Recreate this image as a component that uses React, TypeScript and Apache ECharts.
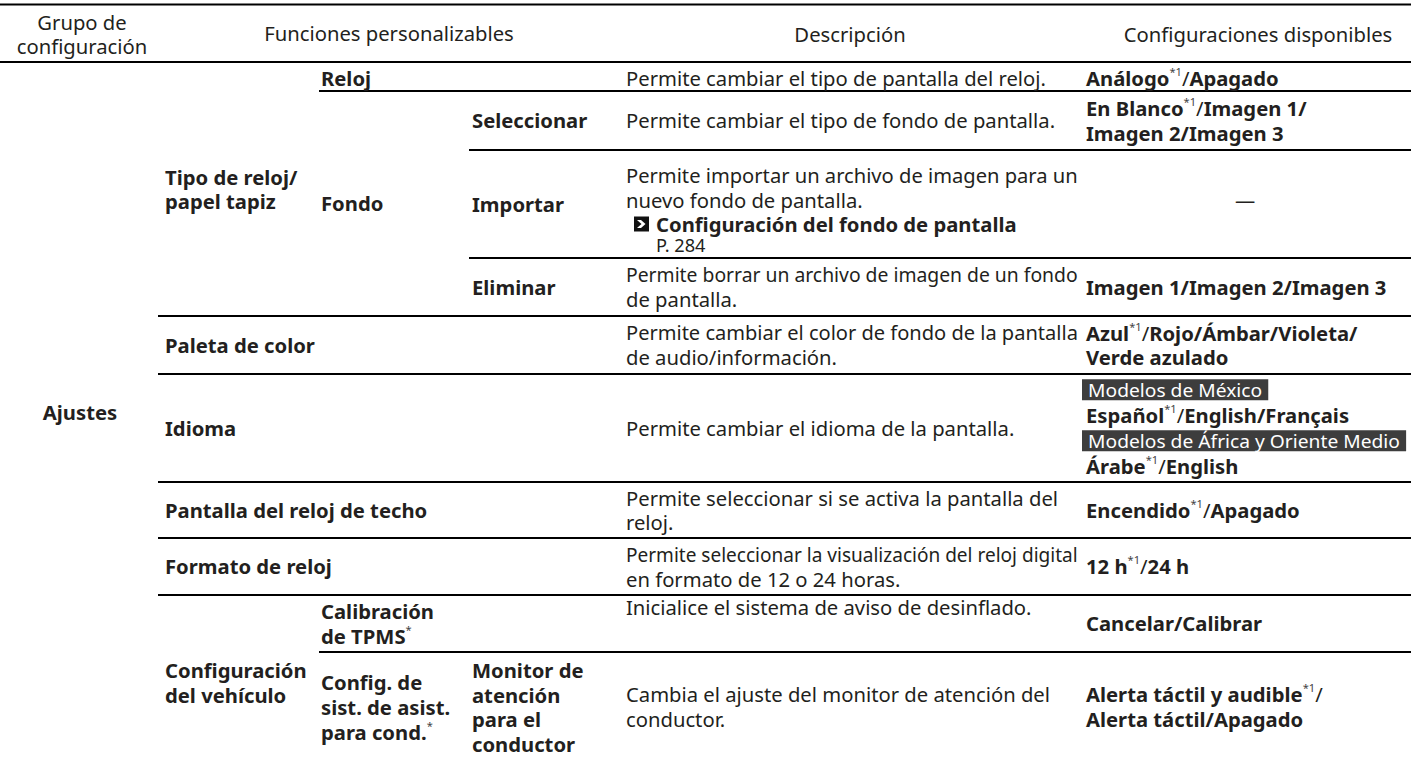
import React, { useEffect, useRef } from 'react';
import * as echarts from 'echarts';

const FONT = '"Noto Sans", "Open Sans", "DejaVu Sans", sans-serif';
const INK = '#231f20';

// ---------- table content ----------
const headerGroup = ['Grupo de', 'configuración'];
const headerFunctions = 'Funciones personalizables';
const headerDescription = 'Descripción';
const headerSettings = 'Configuraciones disponibles';

const groupName = 'Ajustes';

const level1Labels = [
  ['Tipo de reloj/', 'papel tapiz'],
  ['Paleta de color'],
  ['Idioma'],
  ['Pantalla del reloj de techo'],
  ['Formato de reloj'],
  ['Configuración', 'del vehículo'],
];
const level1Spans = [[0, 3], [4, 4], [5, 5], [6, 6], [7, 7], [8, 9]];

const level2Labels = [
  ['Reloj'],
  ['Fondo'],
  ['Calibración', 'de TPMS{s|*}'],
  ['Config. de', 'sist. de asist.', 'para cond.{s|*}'],
];
const level2Spans = [[0, 0], [1, 3], [8, 8], [9, 9]];

const level3Labels = [
  ['Seleccionar'],
  ['Importar'],
  ['Eliminar'],
  ['Monitor de', 'atención', 'para el', 'conductor'],
];
const level3Rows = [1, 2, 3, 9];

const descriptions = [
  ['Permite cambiar el tipo de pantalla del reloj.'],
  ['Permite cambiar el tipo de fondo de pantalla.'],
  ['Permite importar un archivo de imagen para un', 'nuevo fondo de pantalla.'],
  ['Permite borrar un archivo de imagen de un fondo', 'de pantalla.'],
  ['Permite cambiar el color de fondo de la pantalla', 'de audio/información.'],
  ['Permite cambiar el idioma de la pantalla.'],
  ['Permite seleccionar si se activa la pantalla del', 'reloj.'],
  ['Permite seleccionar la visualización del reloj digital', 'en formato de 12 o 24 horas.'],
  ['Inicialice el sistema de aviso de desinflado.'],
  ['Cambia el ajuste del monitor de atención del', 'conductor.'],
];
const crossRefTitle = 'Configuración del fondo de pantalla';
const crossRefPage = 'P. 284';

const settings = [
  ['{b|Análogo}{s|*1}{r|/}{b|Apagado}'],
  ['{b|En Blanco}{s|*1}{r|/}{b|Imagen 1/}', '{b|Imagen 2/Imagen 3}'],
  ['{r|—}'],
  ['{b|Imagen 1/Imagen 2/Imagen 3}'],
  ['{b|Azul}{s|*1}{r|/}{b|Rojo/Ámbar/Violeta/}', '{b|Verde azulado}'],
  ['#Modelos de México', '{b|Español}{s|*1}{r|/}{b|English/Français}', '#Modelos de África y Oriente Medio', '{b|Árabe}{s|*1}{r|/}{b|English}'],
  ['{b|Encendido}{s|*1}{r|/}{b|Apagado}'],
  ['{b|12 h}{s|*1}{r|/}{b|24 h}'],
  ['{b|Cancelar/Calibrar}'],
  ['{b|Alerta táctil y audible}{s|*1}{r|/}', '{b|Alerta táctil/Apagado}'],
];

// ---------- layout ----------
const W = 1411;
const TOP_LINE = 4.5;
const ROW_BOUNDS = [62, 91, 150, 258, 316, 374, 482, 538, 595, 652, 762];
const LINE_X = [0, 158, 319, 469];
const TEXT_X = [82, 165, 321, 472, 626, 1086];
const DESC_MAX = 452;
const PITCH = 24.5;
const SIZE = 20;

const RICH: any = {
  r: { fontFamily: FONT, fontSize: SIZE, fontWeight: 'normal', fill: INK, color: INK, lineHeight: 24 },
  b: { fontFamily: FONT, fontSize: SIZE, fontWeight: 'bold', fill: INK, color: INK, lineHeight: 24 },
  s: { fontFamily: FONT, fontSize: 11, fontWeight: 'normal', fill: '#444', color: '#444', lineHeight: 12, verticalAlign: 'top' },
};

let ctx: CanvasRenderingContext2D | null = null;
function measure(t: string, weight: string, size: number) {
  if (!ctx) ctx = document.createElement('canvas').getContext('2d');
  ctx!.font = `${weight} ${size}px ${FONT}`;
  return ctx!.measureText(t).width;
}
function measureRich(s: string) {
  let w = 0;
  let last = 0;
  const re = /\{(\w+)\|([^}]*)\}/g;
  let m: RegExpExecArray | null;
  while ((m = re.exec(s))) {
    if (m.index > last) w += measure(s.slice(last, m.index), 'normal', SIZE);
    const st = RICH[m[1]];
    w += measure(m[2], st.fontWeight, st.fontSize);
    last = re.lastIndex;
  }
  if (last < s.length) w += measure(s.slice(last), 'normal', SIZE);
  return w;
}

function App() {
  const ref = useRef<HTMLDivElement>(null);
  useEffect(() => {
    document.body.style.margin = '0';
    const chart = echarts.init(ref.current!, undefined, { renderer: 'svg' });
    const K = 420 / measure('Permite cambiar el tipo de pantalla del reloj.', 'normal', SIZE);
    const els: any[] = [];

    const text = (x: number, y: number, s: string, align: string, maxW?: number) => {
      const w = measureRich(s);
      let sx = K;
      if (maxW && w * K > maxW) sx = maxW / w;
      els.push({
        type: 'text', x, y, scaleX: sx, silent: true,
        style: {
          text: s, rich: RICH, align, verticalAlign: 'middle', textAlign: align, textVerticalAlign: 'middle',
          font: `normal ${SIZE}px ${FONT}`, fill: INK,
        },
      });
    };
    const lines = (x: number, cy: number, arr: string[], align: string, wrap: (t: string) => string, pitch = PITCH, maxW?: number) => {
      arr.forEach((t, i) => text(x, cy + (i - (arr.length - 1) / 2) * pitch, wrap(t), align, maxW));
    };
    const R = (t: string) => `{r|${t}}`;
    const B = (t: string) => (t.includes('{') ? t.replace(/^([^{]+)/, '{b|$1}') : `{b|${t}}`);
    const rowMid = (a: number, b: number) => (ROW_BOUNDS[a] + ROW_BOUNDS[b + 1]) / 2;
    const hline = (x1: number, y: number, lw = 1.8) =>
      els.push({ type: 'line', silent: true, shape: { x1, y1: y, x2: W, y2: y }, style: { stroke: '#000', lineWidth: lw } });

    // rules
    hline(0, TOP_LINE, 2.2);
    hline(0, ROW_BOUNDS[0], 2);
    for (let r = 0; r < 9; r++) {
      let x = LINE_X[3];
      if (level2Spans.some((s) => s[1] === r)) x = LINE_X[2];
      if (level1Spans.some((s) => s[1] === r)) x = LINE_X[1];
      hline(x, ROW_BOUNDS[r + 1]);
    }

    // header
    lines(TEXT_X[0], 34.5, headerGroup, 'center', R, 24);
    text(389, 33, R(headerFunctions), 'center');
    text(850, 34, R(headerDescription), 'center');
    text(1258, 34, R(headerSettings), 'center');

    // group
    text(TEXT_X[0] - 2, rowMid(0, 9), B(groupName), 'center');
    level1Labels.forEach((l, i) => {
      const [a, b] = level1Spans[i];
      lines(TEXT_X[1], rowMid(a, b) + (a === 8 ? 4 : 0), l, 'left', B);
    });
    level2Labels.forEach((l, i) => {
      const [a, b] = level2Spans[i];
      lines(TEXT_X[2], rowMid(a, b) + (a === 0 ? 1.5 : 0), l, 'left', B, a === 9 ? 25 : PITCH);
    });
    level3Labels.forEach((l, i) => {
      const r = level3Rows[i];
      lines(TEXT_X[3], rowMid(r, r), l, 'left', B);
    });

    // descriptions
    descriptions.forEach((d, r) => {
      const mid = rowMid(r, r);
      if (r === 2) {
        const y0 = mid - 28;
        d.forEach((t, i) => text(TEXT_X[4], y0 + i * 24, R(t), 'left', DESC_MAX));
        const ya = y0 + 48;
        els.push({ type: 'rect', silent: true, shape: { x: 634, y: ya - 7.5, width: 15, height: 15 }, style: { fill: '#111' } });
        els.push({
          type: 'polygon', silent: true,
          shape: { points: [[637, ya - 4], [641, ya - 4], [645.5, ya], [641, ya + 4], [637, ya + 4], [641.5, ya]] },
          style: { fill: '#fff' },
        });
        text(656, ya, `{b|${crossRefTitle}}`, 'left');
        els.push({
          type: 'text', x: 656, y: ya + 21, scaleX: K, silent: true,
          style: { text: crossRefPage, font: `normal 18px ${FONT}`, fill: INK, align: 'left', verticalAlign: 'middle' },
        });
      } else if (r === 8) {
        text(TEXT_X[4], ROW_BOUNDS[8] + 12, R(d[0]), 'left', DESC_MAX);
      } else {
        lines(TEXT_X[4], mid + (r === 0 ? 1.5 : 0), d, 'left', R, r === 9 ? 25 : PITCH, DESC_MAX);
      }
    });

    // settings
    settings.forEach((s, r) => {
      const mid = rowMid(r, r);
      if (r === 2) {
        text(1245, mid - 4, s[0], 'center');
        return;
      }
      const pitch = r === 5 ? 25.5 : r === 9 ? 25 : PITCH;
      s.forEach((t, i) => {
        const y = mid + (i - (s.length - 1) / 2) * pitch + (r === 0 ? 1.5 : 0);
        if (t.startsWith('#')) {
          els.push({
            type: 'text', x: TEXT_X[5] - 4, y, scaleX: K, silent: true,
            style: {
              text: t.slice(1), font: `normal 19px ${FONT}`, fill: '#ffffff', backgroundColor: '#3d3d3d',
              padding: [1, 6, 1, 6], align: 'left', verticalAlign: 'middle',
            },
          });
        } else {
          text(TEXT_X[5], y, t, 'left');
        }
      });
    });

    chart.setOption({ animation: false, graphic: { elements: els } });
    return () => chart.dispose();
  }, []);
  return <div ref={ref} style={{ width: '1411px', height: '757px' }} />;
}

export default App;
